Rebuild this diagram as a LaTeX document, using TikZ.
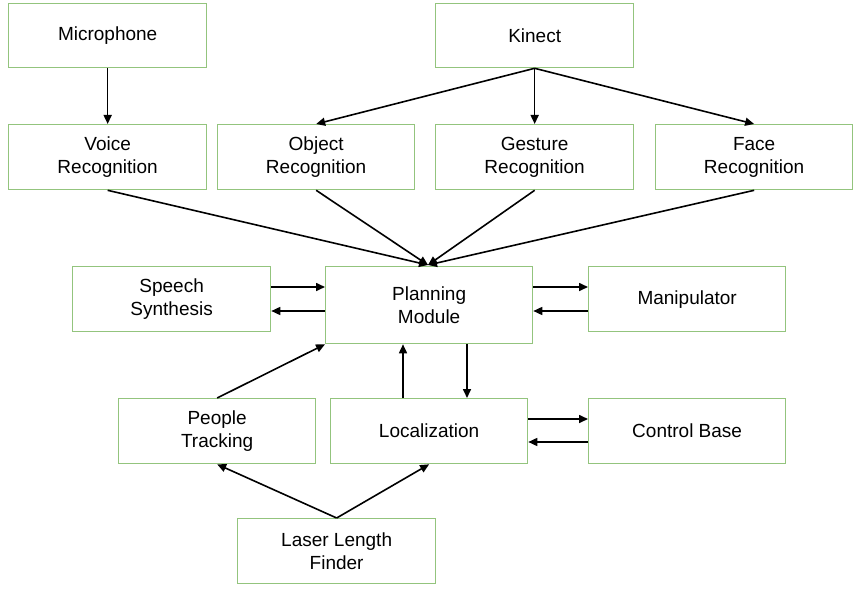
\documentclass[tikz,border=0pt]{standalone}
\usepackage{fontspec}
\setmainfont{Liberation Sans}
\usetikzlibrary{arrows.meta,calc}
\begin{document}
\begin{tikzpicture}[x=1pt,y=-1pt,
  box/.style={draw=green!50!black!40!lime!60!white, draw={rgb,255:red,147;green,196;blue,125}, line width=1.3pt, anchor=north west, align=center, font=\fontsize{19}{23}\selectfont, inner sep=0pt},
  arr/.style={-{Triangle[length=9pt,width=8pt]}, line width=1.6pt}]
\useasboundingbox (0,0) rectangle (854,591);
\newcommand\bx[6]{\node[box, minimum width=#4-#2, minimum height=#5-#3] (#1) at (#2,#3) {#6};}
\bx{mic}{8}{3}{206}{67}{Microphone}
\bx{kin}{435}{3}{633}{67}{Kinect}
\bx{voi}{8}{124}{206}{189}{Voice\\Recognition}
\bx{obj}{217}{124}{414}{189}{Object\\Recognition}
\bx{ges}{435}{124}{633}{189}{Gesture\\Recognition}
\bx{fac}{655}{124}{852}{189}{Face\\Recognition}
\bx{spe}{72}{266}{270}{331}{Speech\\Synthesis}
\bx{pla}{325}{266}{532}{343}{Planning\\Module}
\bx{man}{588}{266}{785}{331}{Manipulator}
\bx{peo}{118}{398}{315}{463}{People\\Tracking}
\bx{loc}{330}{398}{527}{463}{Localization}
\bx{con}{588}{398}{785}{463}{Control Base}
\bx{las}{237}{518}{435}{583}{Laser Length\\Finder}
\draw[arr] (mic.south) -- (voi.north);
\draw[arr] (kin.south) -- (obj.north);
\draw[arr] (kin.south) -- (ges.north);
\draw[arr] (kin.south) -- (fac.north);
\coordinate (p) at (428,265);
\draw[arr] (voi.south) -- (p);
\draw[arr] (obj.south) -- (p);
\draw[arr] (ges.south) -- (p);
\draw[arr] (fac.south) -- (p);
\draw[arr] (spe.east|-0,287) -- (pla.west|-0,287);
\draw[arr] (pla.west|-0,311) -- (spe.east|-0,311);
\draw[arr] (pla.east|-0,287) -- (man.west|-0,287);
\draw[arr] (man.west|-0,311) -- (pla.east|-0,311);
\draw[arr] (loc.east|-0,419) -- (con.west|-0,419);
\draw[arr] (con.west|-0,442) -- (loc.east|-0,442);
\draw[arr] (loc.north-|403,0) -- (pla.south-|403,0);
\draw[arr] (pla.south-|467,0) -- (loc.north-|467,0);
\draw[arr] (peo.north) -- (pla.south west);
\draw[arr] (las.north) -- (peo.south);
\draw[arr] (las.north) -- (loc.south);
\end{tikzpicture}
\end{document}
